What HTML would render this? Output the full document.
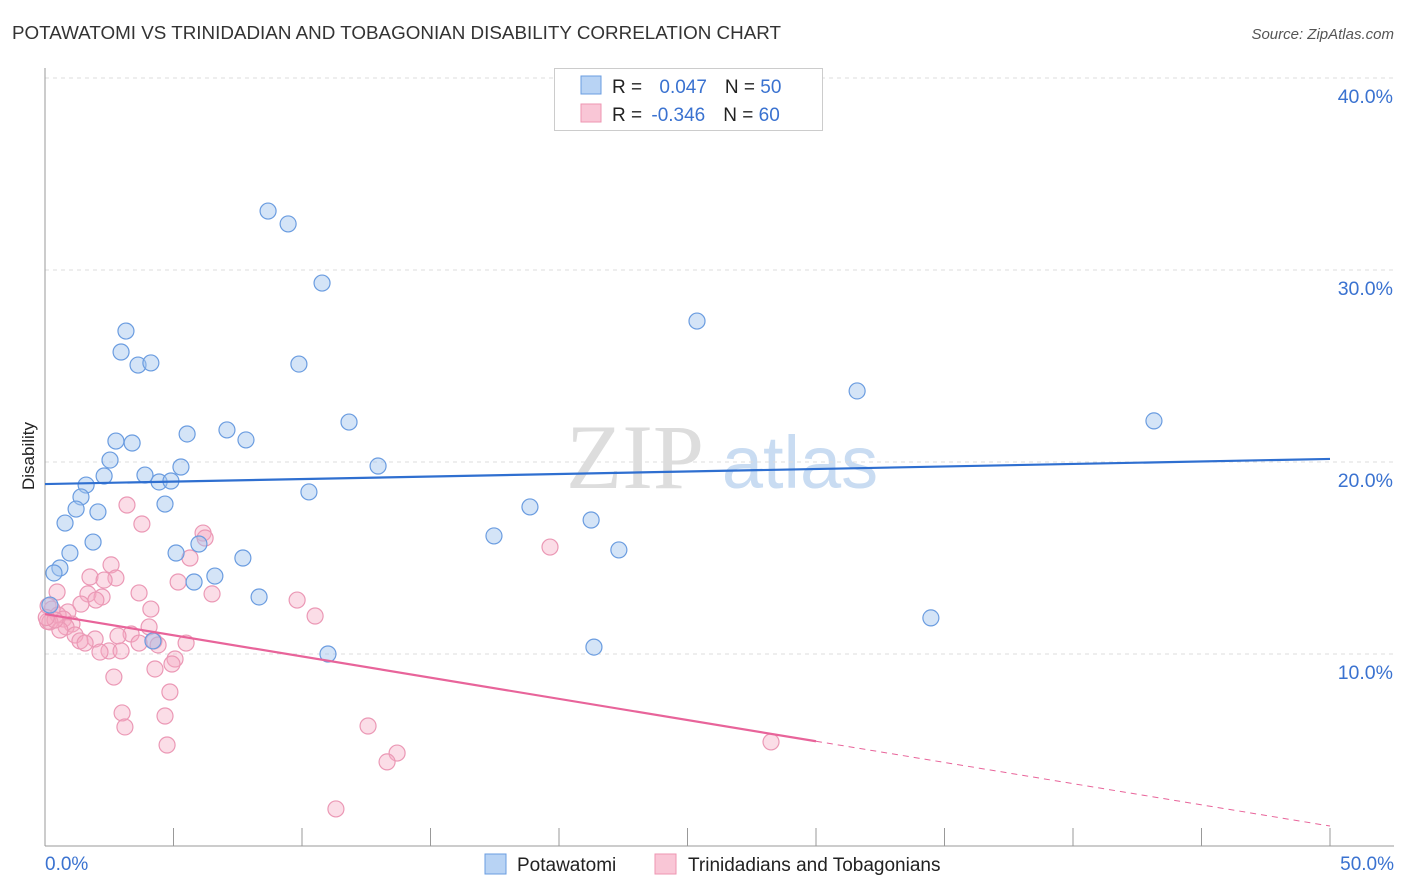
<!DOCTYPE html>
<html><head><meta charset="utf-8">
<style>
body{margin:0;background:#fff;font-family:"Liberation Sans",sans-serif;}
svg{display:block}
</style></head>
<body>
<svg id="chart" width="1406" height="892" xmlns="http://www.w3.org/2000/svg">
<text x="12" y="39" font-size="18" fill="#333" textLength="769" lengthAdjust="spacingAndGlyphs">POTAWATOMI VS TRINIDADIAN AND TOBAGONIAN DISABILITY CORRELATION CHART</text>
<text x="1394" y="39" font-size="15" fill="#555" font-style="italic" text-anchor="end">Source: ZipAtlas.com</text>
<g>
<text x="635" y="488" font-size="92" font-family="Liberation Serif,serif" fill="#ddd" text-anchor="middle">ZIP</text>
<text x="800" y="488" font-size="74" fill="#c9dcf2" text-anchor="middle">atlas</text>
</g>
<text transform="translate(34,456) rotate(-90)" font-size="17" fill="#222" text-anchor="middle">Disability</text>
<g id="grid"></g>
<g id="axes"></g>
<g id="marks"></g>
<g>
<rect x="554.5" y="68.5" width="268" height="62" fill="#fff" stroke="#ccc"/>
<rect x="581" y="76" width="20" height="18" fill="#b8d3f4" stroke="#6a9ce0"/>
<rect x="581" y="104" width="20" height="18" fill="#f9c6d6" stroke="#ee95b2"/>
<text x="612" y="93" font-size="19" fill="#222">R = <tspan fill="#3a72d0" dx="12">0.047</tspan><tspan dx="18" fill="#222">N = </tspan><tspan fill="#3a72d0">50</tspan></text>
<text x="612" y="121" font-size="19" fill="#222">R = <tspan fill="#3a72d0" dx="4">-0.346</tspan><tspan dx="18" fill="#222">N = </tspan><tspan fill="#3a72d0">60</tspan></text>
</g>
<g>
<rect x="485" y="854" width="21" height="20" fill="#b8d3f4" stroke="#6a9ce0"/>
<text x="517" y="871" font-size="19" fill="#222">Potawatomi</text>
<rect x="655" y="854" width="21" height="20" fill="#f9c6d6" stroke="#ee95b2"/>
<text x="688" y="871" font-size="19" fill="#222">Trinidadians and Tobagonians</text>
</g>
</svg>
<script>
const blueX=[8.68,9.46,10.78,3.15,2.96,3.62,4.12,9.88,25.37,31.6,43.15,11.83,7.08,5.53,2.76,3.39,7.82,2.53,5.29,12.96,2.3,3.89,4.44,4.9,1.6,1.4,10.27,4.67,1.21,2.06,18.87,0.78,21.25,17.47,1.87,5.99,0.97,22.33,5.1,7.7,0.58,0.35,6.61,5.8,8.33,34.47,0.19,4.2,11.01,21.36];
const blueY=[33.07,32.4,29.32,26.82,25.73,25.05,25.16,25.1,27.34,23.7,22.14,22.08,21.67,21.46,21.09,20.99,21.15,20.1,19.74,19.79,19.27,19.32,18.96,19.01,18.8,18.18,18.44,17.81,17.55,17.4,17.66,16.82,16.98,16.15,15.83,15.73,15.26,15.42,15.26,15.0,14.48,14.22,14.06,13.75,12.97,11.88,12.55,10.68,10.0,10.36];
const pinkX=[0.1,3.19,3.77,6.15,6.23,5.64,19.65,2.57,1.75,2.76,2.3,5.18,0.47,3.66,1.67,2.22,6.5,9.81,1.98,1.4,0.12,0.27,4.12,0.89,0.51,10.51,0.72,0.19,1.05,0.82,4.05,0.58,3.35,1.17,2.84,1.95,1.36,4.24,1.56,5.49,4.4,3.66,2.49,2.96,2.14,5.06,4.94,4.28,2.68,4.86,3.0,4.67,3.11,12.57,28.25,13.7,13.31,4.75,11.32,0.39,0.05];
const pinkY=[11.7,17.76,16.77,16.3,16.04,15.0,15.57,14.64,14.01,13.96,13.85,13.75,13.23,13.18,13.13,12.97,13.13,12.81,12.81,12.6,12.5,12.34,12.34,12.19,12.03,11.98,11.82,11.67,11.56,11.41,11.41,11.25,11.04,10.99,10.94,10.78,10.68,10.68,10.57,10.57,10.47,10.57,10.16,10.16,10.1,9.74,9.48,9.22,8.8,8.02,6.93,6.77,6.2,6.25,5.42,4.84,4.38,5.26,1.93,11.77,11.9];
const blueTrend=[18.85,20.16];
const pinkTrend=[12.08,1.04];
const pinkSolidEnd=30;
const yTicks=[10,20,30,40];
const xTicks=[0,5,10,15,20,25,30,35,40,45,50];
const NS="http://www.w3.org/2000/svg";
const sx=v=>45+v*25.7, sy=v=>846-v*19.2;
function mk(tag,attrs,parent){const e=document.createElementNS(NS,tag);for(const k in attrs)e.setAttribute(k,attrs[k]);document.getElementById(parent).appendChild(e);return e;}
yTicks.forEach(t=>{
 const l=mk('line',{x1:45,x2:1394,y1:sy(t),y2:sy(t),stroke:'#ddd','stroke-dasharray':'4,4'},'grid');
 
 
 const tx=mk('text',{x:1393,y:sy(t)+25,'font-size':19.5,fill:'#3a72d0','text-anchor':'end'},'grid');
 tx.textContent=t.toFixed(1)+'%';
 
 
});
const ax=mk('line',{x1:45,x2:45,y1:68,y2:846,stroke:'#999'},'axes');


const bx=mk('line',{x1:45,x2:1394,y1:846,y2:846,stroke:'#999'},'axes');


xTicks.forEach(t=>{
 const l=mk('line',{x1:sx(t),x2:sx(t),y1:828,y2:846,stroke:'#999'},'axes');
 
 
});
[[0,'start',45],[50,'end',1394]].forEach(([t,a,x])=>{
 const tx=mk('text',{x:x,y:870,'font-size':19,fill:'#3a72d0','text-anchor':a},'axes');
 tx.textContent=t.toFixed(1)+'%';
 
 
});
pinkX.forEach((v,i)=>{
 const c=mk('circle',{cx:sx(v),cy:sy(pinkY[i]),r:8,fill:'rgba(245,170,195,0.4)',stroke:'#eb98b5','stroke-width':1.2},'marks');
 
 
});
blueX.forEach((v,i)=>{
 const c=mk('circle',{cx:sx(v),cy:sy(blueY[i]),r:8,fill:'rgba(160,196,238,0.45)',stroke:'#6a9ce0','stroke-width':1.2},'marks');
 
 
});
const bl=mk('line',{x1:sx(0),y1:sy(blueTrend[0]),x2:sx(50),y2:sy(blueTrend[1]),stroke:'#2f6fd0','stroke-width':2.2},'marks');


const pm=pinkTrend[0]+(pinkTrend[1]-pinkTrend[0])*pinkSolidEnd/50;
const pl=mk('line',{x1:sx(0),y1:sy(pinkTrend[0]),x2:sx(pinkSolidEnd),y2:sy(pm),stroke:'#e8649a','stroke-width':2.2},'marks');


const pd=mk('line',{x1:sx(pinkSolidEnd),y1:sy(pm),x2:sx(50),y2:sy(pinkTrend[1]),stroke:'#e8649a','stroke-width':1,'stroke-dasharray':'6,5'},'marks');


</script>
</body></html>
